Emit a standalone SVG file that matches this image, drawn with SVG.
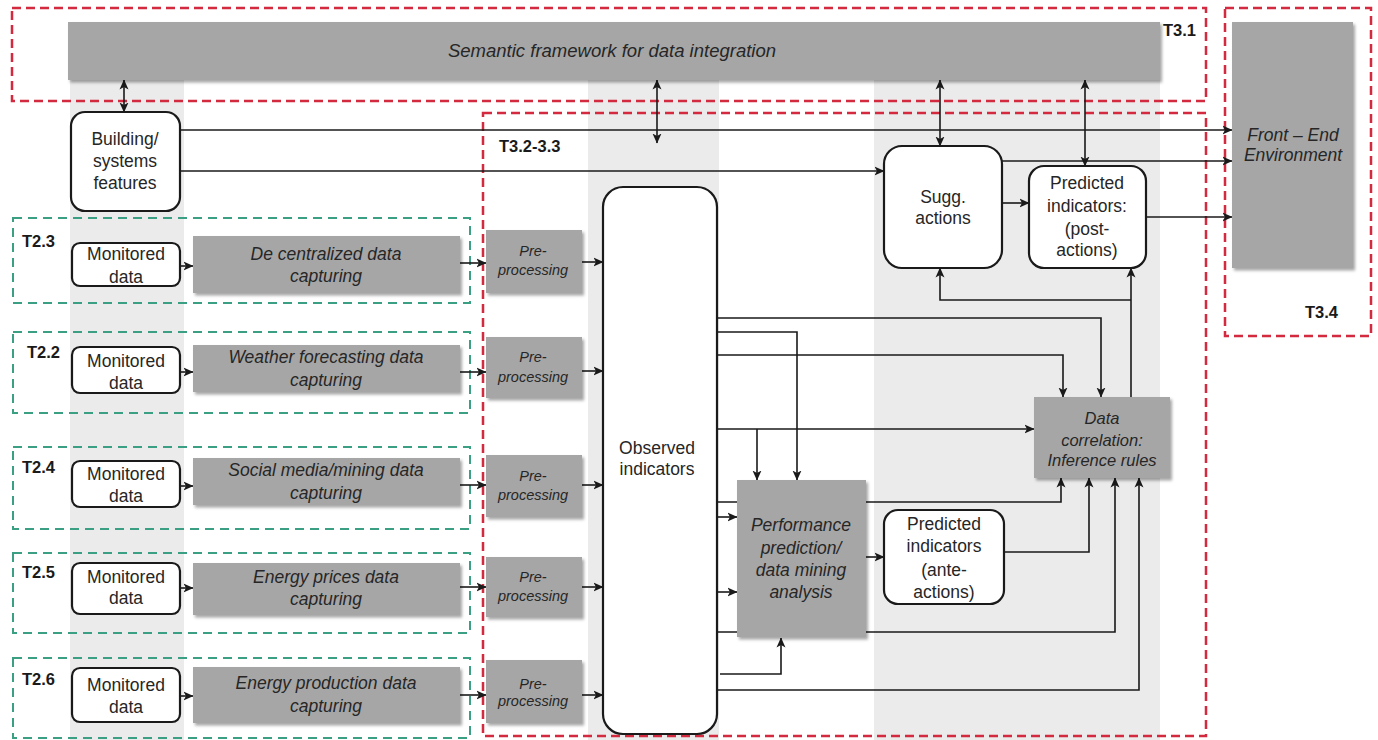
<svg xmlns="http://www.w3.org/2000/svg" width="1378" height="740" viewBox="0 0 1378 740">
<defs>
<marker id="ah" viewBox="0 0 10 10" refX="9.5" refY="5" markerWidth="10" markerHeight="10" markerUnits="userSpaceOnUse" orient="auto-start-reverse">
<path d="M0,0.5 L10,5 L0,9.5 L2.5,5 Z" fill="#1a1a1a"/>
</marker>
<filter id="sh" x="-5%" y="-10%" width="115%" height="130%">
<feDropShadow dx="2" dy="2.5" stdDeviation="1.5" flood-color="#000" flood-opacity="0.35"/>
</filter>
<style>
.band{fill:#ebebeb}
.red{fill:none;stroke:#d42a3f;stroke-width:2.5;stroke-dasharray:9 5}
.grn{fill:none;stroke:#3a9f83;stroke-width:2;stroke-dasharray:9 6}
.gbox{fill:#a6a6a6;filter:url(#sh)}
.wbox{fill:#fff;stroke:#1a1a1a;stroke-width:2.2}
.c{fill:none;stroke:#1a1a1a;stroke-width:1.6}
.a{marker-end:url(#ah)}
.d{marker-start:url(#ah);marker-end:url(#ah)}
text{font-family:"Liberation Sans",Arial,sans-serif;fill:#262626;text-anchor:middle;font-size:17.5px}
.it{font-style:italic}
.sm{font-size:14.5px}
.lbl{font-weight:bold;text-anchor:start;font-size:16.5px;fill:#1a1a1a}
</style>
</defs>
<rect width="1378" height="740" fill="#fff"/>
<g id="bands">
<rect class="band" x="70" y="80" width="114" height="660"/>
<rect class="band" x="588" y="80" width="131" height="660"/>
<rect class="band" x="874" y="80" width="286" height="660"/>
</g>
<g id="groups">
<rect class="red" x="12" y="8" width="1194" height="93"/>
<rect class="red" x="1225" y="8" width="146" height="328"/>
<rect class="red" x="483" y="113" width="723" height="623"/>
<rect class="grn" x="13" y="218" width="457" height="85"/>
<rect class="grn" x="13" y="332" width="457" height="81"/>
<rect class="grn" x="13" y="447" width="457" height="82"/>
<rect class="grn" x="13" y="553" width="457" height="80"/>
<rect class="grn" x="13" y="658" width="457" height="80"/>
<text class="lbl" x="1163" y="36">T3.1</text>
<text class="lbl" x="1305" y="318">T3.4</text>
<text class="lbl" x="499" y="152">T3.2-3.3</text>
<text class="lbl" x="22" y="247">T2.3</text>
<text class="lbl" x="27" y="358">T2.2</text>
<text class="lbl" x="22" y="473">T2.4</text>
<text class="lbl" x="22" y="578">T2.5</text>
<text class="lbl" x="22" y="685">T2.6</text>
</g>
<g id="connectors">
<path class="c d" d="M124,80 L124,112"/>
<path class="c d" d="M657,80 L657,143"/>
<path class="c d" d="M940,80 L940,146"/>
<path class="c d" d="M1085,80 L1085,166"/>
<path class="c a" d="M180,130 L1232,130"/>
<path class="c a" d="M180,171 L884,171"/>
<path class="c a" d="M1002,161 L1232,161"/>
<path class="c a" d="M1002,203 L1029,203"/>
<path class="c a" d="M1146,217 L1232,217"/>
<path class="c a" d="M1131,397 L1131,268"/>
<path class="c a" d="M1131,300 L940,300 L940,268"/>
<path class="c a" d="M180,266 L193,266"/>
<path class="c a" d="M180,372 L193,372"/>
<path class="c a" d="M180,486 L193,486"/>
<path class="c a" d="M180,588 L193,588"/>
<path class="c a" d="M180,696 L193,696"/>
<path class="c a" d="M460,263 L486,263"/>
<path class="c a" d="M460,372 L486,372"/>
<path class="c a" d="M460,485 L486,485"/>
<path class="c a" d="M460,587 L486,587"/>
<path class="c a" d="M460,695 L486,695"/>
<path class="c a" d="M582,262 L603,262"/>
<path class="c a" d="M582,371 L603,371"/>
<path class="c a" d="M582,485 L603,485"/>
<path class="c a" d="M582,587 L603,587"/>
<path class="c a" d="M582,695 L603,695"/>
<path class="c a" d="M717,318 L1101,318 L1101,397"/>
<path class="c a" d="M717,332 L797,332 L797,480"/>
<path class="c a" d="M711,355 L1063,355 L1063,397"/>
<path class="c a" d="M717,429 L1034,429"/>
<path class="c a" d="M757,429 L757,480"/>
<path class="c a" d="M717,502 L1061,502 L1061,478"/>
<path class="c a" d="M717,517 L737,517"/>
<path class="c a" d="M717,592 L737,592"/>
<path class="c a" d="M717,632 L1115,632 L1115,478"/>
<path class="c a" d="M720,674 L781,674 L781,638"/>
<path class="c a" d="M717,690 L1139,690 L1139,478"/>
<path class="c a" d="M866,557 L884,557"/>
<path class="c a" d="M1004,552 L1089,552 L1089,478"/>
</g>
<g id="semantic">
<rect class="gbox" x="68" y="22" width="1092" height="58"/>
<text class="it" x="612" y="57" style="font-size:18.5px">Semantic framework for data integration</text>
</g>
<g id="frontend">
<rect class="gbox" x="1232" y="22" width="121" height="246"/>
<text class="it" x="1293" y="141">Front – End</text>
<text class="it" x="1293" y="161">Environment</text>
</g>
<g id="building">
<rect class="wbox" x="71" y="112" width="109" height="99" rx="14"/>
<text x="125" y="145">Building/</text>
<text x="125" y="167">systems</text>
<text x="125" y="189">features</text>
</g>
<g id="mon23">
<rect class="wbox" x="72" y="243" width="108" height="43" rx="8"/>
<text x="126" y="260">Monitored</text><text x="126" y="283">data</text>
</g>
<g id="cap23">
<rect class="gbox" x="193" y="236" width="267" height="57"/>
<text class="it" x="326" y="260">De centralized data</text><text class="it" x="326" y="282">capturing</text>
</g>
<g id="pre23">
<rect class="gbox" x="486" y="230" width="96" height="63"/>
<text class="it sm" x="533" y="256">Pre-</text><text class="it sm" x="533" y="275">processing</text>
</g>
<g id="mon22">
<rect class="wbox" x="72" y="347" width="108" height="46" rx="8"/>
<text x="126" y="367">Monitored</text><text x="126" y="389">data</text>
</g>
<g id="cap22">
<rect class="gbox" x="193" y="345" width="267" height="47"/>
<text class="it" x="326" y="363">Weather forecasting data</text><text class="it" x="326" y="386">capturing</text>
</g>
<g id="pre22">
<rect class="gbox" x="486" y="337" width="96" height="61"/>
<text class="it sm" x="533" y="362">Pre-</text><text class="it sm" x="533" y="382">processing</text>
</g>
<g id="mon24">
<rect class="wbox" x="72" y="461" width="108" height="46" rx="8"/>
<text x="126" y="480">Monitored</text><text x="126" y="502">data</text>
</g>
<g id="cap24">
<rect class="gbox" x="193" y="458" width="267" height="47"/>
<text class="it" x="326" y="476">Social media/mining data</text><text class="it" x="326" y="499">capturing</text>
</g>
<g id="pre24">
<rect class="gbox" x="486" y="455" width="96" height="62"/>
<text class="it sm" x="533" y="481">Pre-</text><text class="it sm" x="533" y="500">processing</text>
</g>
<g id="mon25">
<rect class="wbox" x="72" y="563" width="108" height="51" rx="8"/>
<text x="126" y="583">Monitored</text><text x="126" y="604">data</text>
</g>
<g id="cap25">
<rect class="gbox" x="193" y="563" width="267" height="52"/>
<text class="it" x="326" y="583">Energy prices data</text><text class="it" x="326" y="605">capturing</text>
</g>
<g id="pre25">
<rect class="gbox" x="486" y="557" width="96" height="60"/>
<text class="it sm" x="533" y="582">Pre-</text><text class="it sm" x="533" y="601">processing</text>
</g>
<g id="mon26">
<rect class="wbox" x="72" y="668" width="108" height="54" rx="8"/>
<text x="126" y="691">Monitored</text><text x="126" y="713">data</text>
</g>
<g id="cap26">
<rect class="gbox" x="193" y="667" width="267" height="56"/>
<text class="it" x="326" y="689">Energy production data</text><text class="it" x="326" y="712">capturing</text>
</g>
<g id="pre26">
<rect class="gbox" x="486" y="660" width="96" height="63"/>
<text class="it sm" x="533" y="689">Pre-</text><text class="it sm" x="533" y="706">processing</text>
</g>
<g id="observed">
<rect class="wbox" x="603" y="187" width="114" height="547" rx="20"/>
<text x="657" y="454">Observed</text><text x="657" y="475">indicators</text>
</g>
<g id="sugg">
<rect class="wbox" x="884" y="146" width="118" height="122" rx="18"/>
<text x="943" y="203">Sugg.</text><text x="943" y="224">actions</text>
</g>
<g id="predpost">
<rect class="wbox" x="1029" y="166" width="117" height="102" rx="15"/>
<text x="1087" y="189">Predicted</text><text x="1087" y="212">indicators:</text><text x="1087" y="235">(post-</text><text x="1087" y="256">actions)</text>
</g>
<g id="performance">
<rect class="gbox" x="737" y="480" width="129" height="157"/>
<text class="it" x="801" y="531">Performance</text><text class="it" x="801" y="554">prediction/</text><text class="it" x="801" y="576">data mining</text><text class="it" x="801" y="598">analysis</text>
</g>
<g id="predante">
<rect class="wbox" x="884" y="510" width="120" height="94" rx="14"/>
<text x="944" y="530">Predicted</text><text x="944" y="552">indicators</text><text x="944" y="576">(ante-</text><text x="944" y="598">actions)</text>
</g>
<g id="datacorr">
<rect class="gbox" x="1034" y="397" width="136" height="81"/>
<text class="it" x="1102" y="424" style="font-size:16.5px">Data</text><text class="it" x="1102" y="446" style="font-size:16.5px">correlation:</text><text class="it" x="1102" y="466" style="font-size:16.5px">Inference rules</text>
</g>
</svg>
